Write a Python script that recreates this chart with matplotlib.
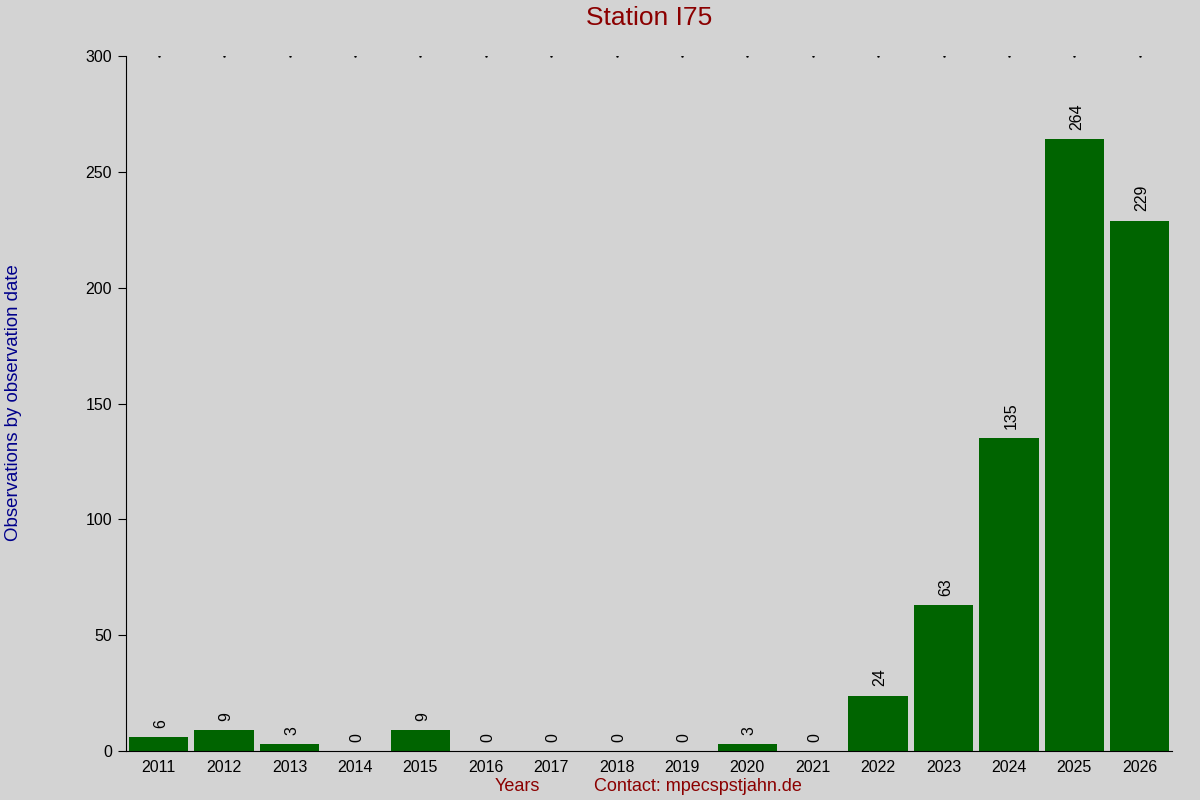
import numpy as np
import matplotlib
matplotlib.use("Agg")
import matplotlib.pyplot as plt

plt.rcParams['font.family'] = ['Liberation Sans', 'DejaVu Sans']

# data
years = [2011, 2012, 2013, 2014, 2015, 2016, 2017, 2018,
         2019, 2020, 2021, 2022, 2023, 2024, 2025, 2026]
counts = [6, 9, 3, 0, 9, 0, 0, 0, 0, 3, 0, 24, 63, 135, 264, 229]
station = "I75"

bg = "#d3d3d3"

fig = plt.figure(figsize=(12, 8), dpi=100, facecolor=bg)
ax = fig.add_axes([0.105, 0.061, 0.872, 0.869])
ax.set_facecolor(bg)

ax.bar(years, counts, width=0.91, color="#006400")
for x, c in zip(years, counts):
    ax.text(x + 0.03, c + 4, str(c), rotation=90, ha="center", va="bottom", fontsize=11.5)

# little dots along the top
ax.plot(years, [300] * len(years), linestyle="none", marker="s", markersize=0.7, color="black")

ax.set_xlim(2010.5, 2026.5)
ax.set_ylim(0, 300)
ax.set_xticks(years)
ax.set_yticks(np.arange(0, 301, 50))
ax.tick_params(axis="x", length=0, labelsize=11.5, pad=6)
ax.tick_params(axis="y", length=6, labelsize=11.5, pad=4)
ax.spines["top"].set_visible(False)
ax.spines["right"].set_visible(False)

ax.set_title("Station " + station, color="#8b0000", fontsize=19, pad=22)
fig.text(0.004, 0.497, "Observations by observation date", rotation=90,
         color="#00008b", fontsize=13.4, ha="left", va="center")
fig.text(0.431, 0.017, "Years", color="#8b0000", fontsize=13, ha="center", va="center")
fig.text(0.582, 0.017, "Contact: mpecspstjahn.de", color="#8b0000", fontsize=13,
         ha="center", va="center")

fig.savefig("out.png", dpi=100, facecolor=bg)
